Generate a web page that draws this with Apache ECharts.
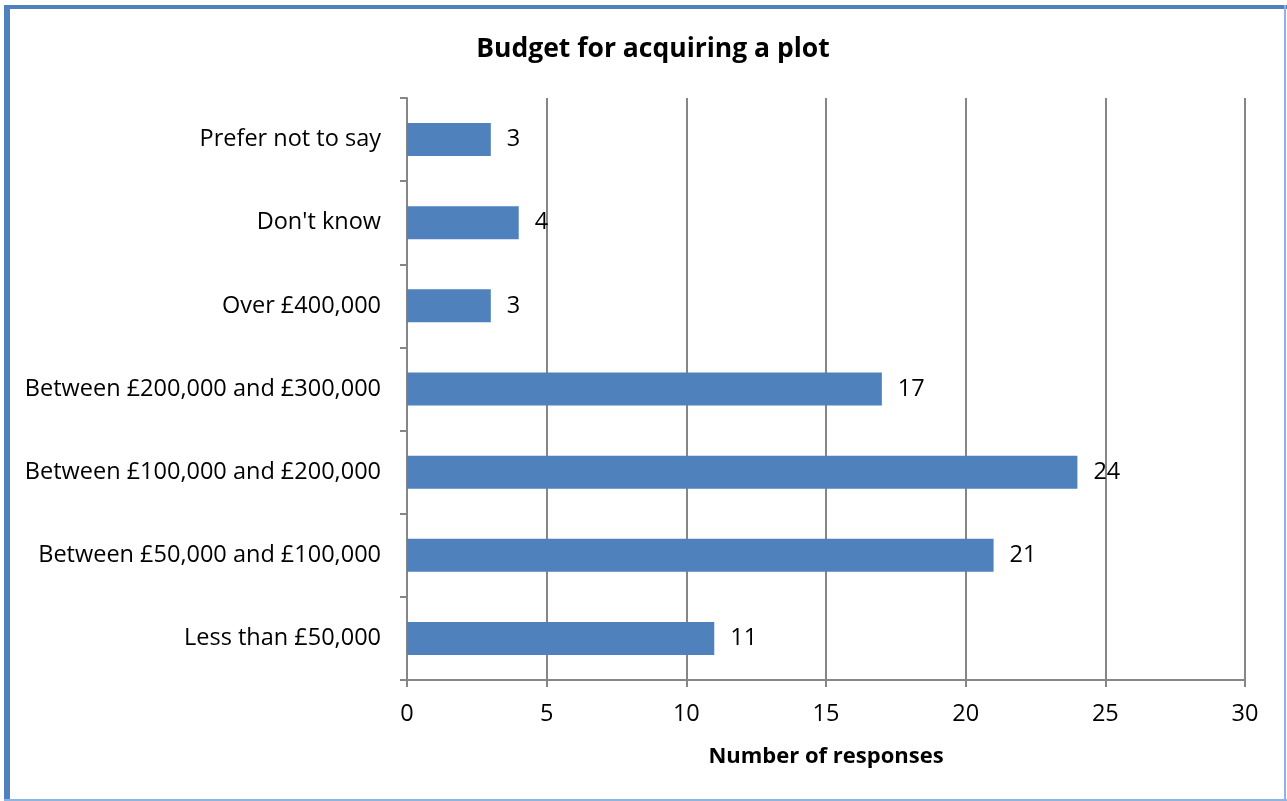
<!DOCTYPE html>
<html>
<head>
<meta charset="utf-8">
<script src="https://cdn.jsdelivr.net/npm/echarts@6/dist/echarts.min.js"></script>
<style>
  html, body { margin: 0; padding: 0; background: #fff; }
  #chart { width: 1287px; height: 801px; }
</style>
</head>
<body>
<div id="chart"></div>
<script>
// Budget bands, listed top to bottom
const categories = [
  "Prefer not to say",
  "Don't know",
  "Over £400,000",
  "Between £200,000 and £300,000",
  "Between £100,000 and £200,000",
  "Between £50,000 and £100,000",
  "Less than £50,000"
];
const responses = [3, 4, 3, 17, 24, 21, 11];
const xTicks = [0, 5, 10, 15, 20, 25, 30];

const FONT = "'Open Sans', Lato, sans-serif";
const TEXT_SIZE = 23.5;
const AXIS_GREY = '#868686';

const chart = echarts.init(document.getElementById('chart'));
chart.setOption({
  backgroundColor: '#ffffff',
  animation: false,
  title: {
    text: 'Budget for acquiring a plot',
    left: 648,
    top: 31,
    textAlign: 'center',
    textStyle: { fontFamily: FONT, fontSize: 26.5, fontWeight: 'bold', color: '#000' }
  },
  grid: { left: 407, right: 42, top: 98, bottom: 121 },
  xAxis: {
    type: 'value',
    min: xTicks[0],
    max: xTicks[xTicks.length - 1],
    interval: 5,
    name: 'Number of responses',
    nameLocation: 'middle',
    nameGap: 66,
    nameTextStyle: { fontFamily: FONT, fontSize: 22, fontWeight: 'bold', color: '#000' },
    axisLine: { show: true, lineStyle: { color: AXIS_GREY, width: 2 } },
    axisTick: { show: true, length: 7, lineStyle: { color: AXIS_GREY, width: 2 } },
    axisLabel: { fontFamily: FONT, fontSize: TEXT_SIZE, color: '#000', margin: 22 },
    splitLine: { show: true, lineStyle: { color: AXIS_GREY, width: 2 } }
  },
  yAxis: {
    type: 'category',
    data: categories,
    inverse: true,
    axisLine: { show: true, lineStyle: { color: AXIS_GREY, width: 2 } },
    axisTick: { show: true, length: 7, lineStyle: { color: AXIS_GREY, width: 2 } },
    axisLabel: { fontFamily: FONT, fontSize: TEXT_SIZE, color: '#000', margin: 26 }
  },
  series: [{
    type: 'bar',
    data: responses,
    barWidth: 33,
    itemStyle: { color: '#4F81BD' },
    label: {
      show: true,
      position: 'right',
      distance: 16,
      fontFamily: FONT,
      fontSize: TEXT_SIZE,
      color: '#000'
    }
  }],
  graphic: [
    // outer frame: heavy top and left edges, thin right and bottom edges
    { type: 'rect', shape: { x: 4, y: 5, width: 1283, height: 4 }, style: { fill: '#4F81BD' }, silent: true },
    { type: 'rect', shape: { x: 4, y: 5, width: 6, height: 796 }, style: { fill: '#4F81BD' }, silent: true },
    { type: 'rect', shape: { x: 1284, y: 5, width: 2, height: 796 }, style: { fill: '#8EB4E3' }, silent: true },
    { type: 'rect', shape: { x: 4, y: 799, width: 1283, height: 2 }, style: { fill: '#8EB4E3' }, silent: true }
  ]
});
</script>
</body>
</html>
